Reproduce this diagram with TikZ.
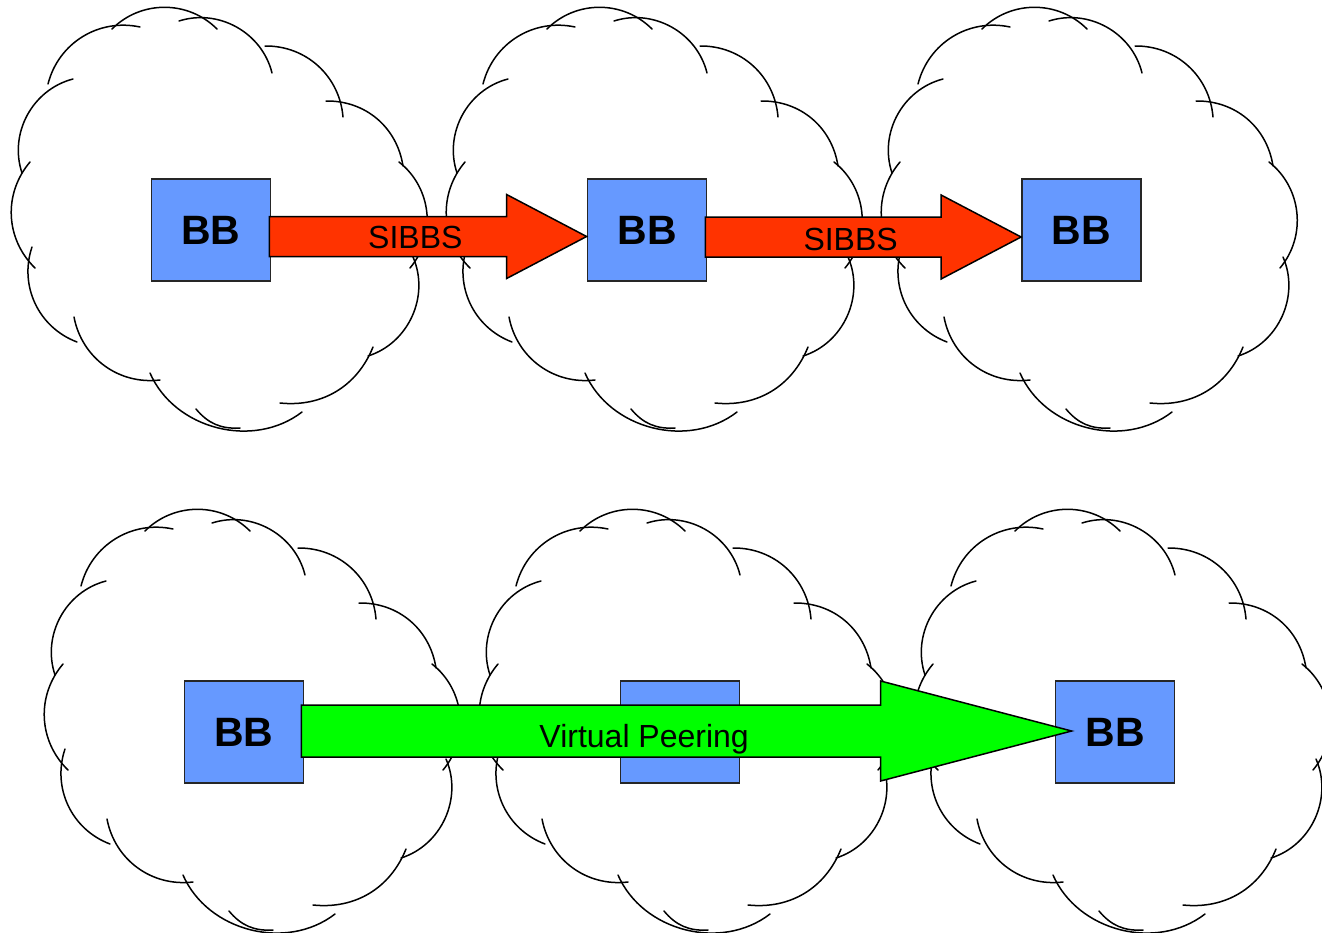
\documentclass[tikz,border=0pt]{standalone}
\usepackage{fontspec}
\setmainfont{Liberation Sans}
\usetikzlibrary{calc}
\definecolor{bbblue}{RGB}{102,153,255}
\definecolor{sibbsred}{RGB}{255,51,0}
\definecolor{peergreen}{RGB}{0,255,0}
\tikzset{
  cloudline/.style={line width=1.5pt, line cap=round},
  bbbox/.style={draw=black!85, line width=1.8pt, fill=bbblue, minimum width=119pt, minimum height=102pt, inner sep=0pt, font=\fontsize{41}{49}\selectfont\bfseries},
  blockarrow/.style={draw=black, line width=1.5pt, line join=miter},
  arrowlabel/.style={font=\fontsize{32}{38}\selectfont, inner sep=0pt, anchor=base},
  bumpcloud/.pic={
    % one bump per entry: start / end / bend
    \foreach \xa/\ya/\xb/\yb/\bnd in {48/84/140/27/44, 112/29/217/29/45, 179/21/272/73/47, 265/46/343/117/43, 326/101/403/166/41, 399/162/410/268/46, 413/257/368/356/48, 373/347/280/403/37, 302/412/150/373/52, 160/380/74/317/43, 77/342/32/247/44, 35/268/30/162/43}
      \draw[cloudline] (\xa,\ya) to[bend left=\bnd] (\xb,\yb);
    \draw[cloudline] (73,79) to[bend right=47] (22,173);
    \draw[cloudline] (196,409) to[bend right=27] (240,428);
  }
}
\begin{document}
\begin{tikzpicture}[x=1pt, y=-1pt]
  \useasboundingbox (0,0) rectangle (1322,932);
  \clip (0,0) rectangle (1322,932);
  % clouds
  \pic at (0,0) {bumpcloud};
  \pic at (435,0) {bumpcloud};
  \pic at (870,0) {bumpcloud};
  \pic at (33,502) {bumpcloud};
  \pic at (468,502) {bumpcloud};
  \pic at (903,502) {bumpcloud};
  % bandwidth brokers
  \node[bbbox] (bb1) at (211,230) {BB};
  \node[bbbox] (bb2) at (647,230) {BB};
  \node[bbbox] (bb3) at (1081.5,230) {BB};
  \node[bbbox] (bb4) at (244,732) {BB};
  \node[bbbox] (bb5) at (680,732) {};
  \node[bbbox] (bb6) at (1115,732) {BB};
  % SIBBS arrows
  \coordinate (s1) at ($(bb1.east)+(-2,6.5)$);
  \coordinate (t1) at ($(bb2.west)+(0,6.5)$);
  \draw[blockarrow, fill=sibbsred] ($(s1)+(0,-20)$) -- ($(t1)+(-80,-20)$) -- ($(t1)+(-80,-42)$) -- (t1)
    -- ($(t1)+(-80,42)$) -- ($(t1)+(-80,20)$) -- ($(s1)+(0,20)$) -- cycle;
  \node[arrowlabel] (lbl1) at ($(s1)!0.46!(t1)+(0,12)$) {SIBBS};
  \coordinate (s2) at ($(bb2.east)+(-2,7)$);
  \coordinate (t2) at ($(bb3.west)+(0,7)$);
  \draw[blockarrow, fill=sibbsred] ($(s2)+(0,-20)$) -- ($(t2)+(-80,-20)$) -- ($(t2)+(-80,-42)$) -- (t2)
    -- ($(t2)+(-80,42)$) -- ($(t2)+(-80,20)$) -- ($(s2)+(0,20)$) -- cycle;
  \node[arrowlabel] (lbl2) at ($(s2)!0.46!(t2)+(0,13)$) {SIBBS};
  % virtual peering arrow
  \coordinate (s3) at ($(bb4.east)+(-3,-1)$);
  \coordinate (t3) at ($(bb6.west)+(17,-1)$);
  \draw[blockarrow, fill=peergreen] ($(s3)+(0,-26)$) -- ($(t3)+(-191,-26)$) -- ($(t3)+(-191,-50)$) -- (t3)
    -- ($(t3)+(-191,50)$) -- ($(t3)+(-191,26)$) -- ($(s3)+(0,26)$) -- cycle;
  \node[arrowlabel] (lbl3) at ($(s3)!0.445!(t3)+(0,16)$) {Virtual Peering};
\end{tikzpicture}
\end{document}
